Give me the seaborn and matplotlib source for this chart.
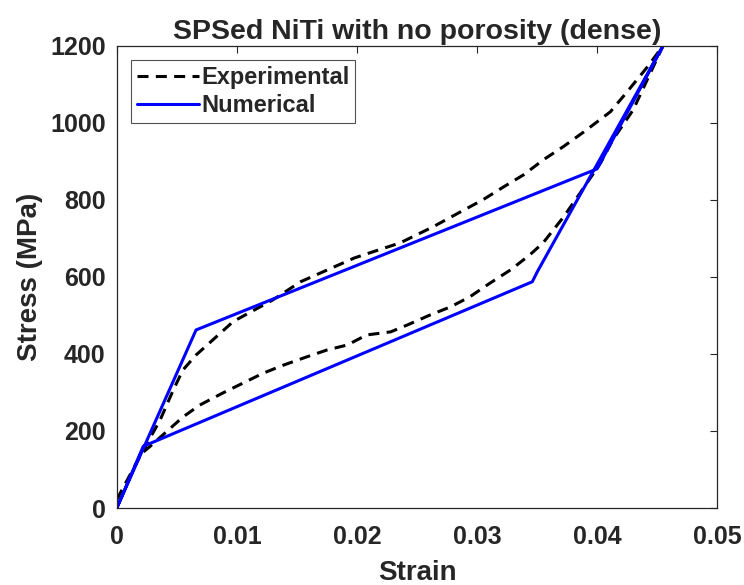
import pandas as pd
import numpy as np
import matplotlib
matplotlib.use("Agg")
import matplotlib.pyplot as plt
import seaborn as sns

sns.set_style("white")
plt.rcParams['font.family'] = ['Liberation Sans', 'DejaVu Sans']
plt.rcParams['font.weight'] = 'bold'

# experimental loop (loading then unloading)
exp_strain = [0.0, 0.0022, 0.0036, 0.0047, 0.0055, 0.0066, 0.0097, 0.013, 0.0153,
              0.0198, 0.0236, 0.0263, 0.0286, 0.0305, 0.0322, 0.0339, 0.0355, 0.0372,
              0.0389, 0.0411, 0.0425, 0.0442, 0.0455,
              0.043, 0.0413, 0.0403, 0.0386, 0.0372, 0.0355, 0.0344, 0.0328, 0.0311,
              0.0294, 0.0278, 0.0261, 0.0242, 0.0228, 0.0208, 0.0192, 0.0175, 0.0158,
              0.0139, 0.0122, 0.0105, 0.0088, 0.0069, 0.0055, 0.0041, 0.0027, 0.0022]
exp_stress = [22, 150, 228, 306, 358, 397, 484, 540, 587,
              649, 688, 729, 768, 800, 833, 865, 903, 938,
              976, 1028, 1080, 1145, 1200,
              1033, 955, 896, 818, 755, 688, 657, 618, 584,
              548, 522, 501, 475, 457, 449, 423, 410, 392,
              371, 350, 324, 298, 267, 236, 197, 158, 145]

# numerical loop
num_strain = [0.0, 0.0066, 0.0400, 0.0455, 0.0350, 0.0346, 0.0022, 0.0]
num_stress = [0, 462, 880, 1200, 612, 587, 160, 0]

exp_df = pd.DataFrame({'Strain': exp_strain, 'Stress': exp_stress})
num_df = pd.DataFrame({'Strain': num_strain, 'Stress': num_stress})

fig = plt.figure(figsize=(7.44, 5.85), dpi=100)
ax = fig.add_axes([0.157, 0.1316, 0.807, 0.7906])

sns.lineplot(data=exp_df, x='Strain', y='Stress', sort=False, estimator=None,
             color='black', linestyle=(0, (3.6, 2.4)), linewidth=2.2,
             label='Experimental', ax=ax)
sns.lineplot(data=num_df, x='Strain', y='Stress', sort=False, estimator=None,
             color='#0000ff', linewidth=2.2, label='Numerical', ax=ax)

ax.set_xlim(0, 0.05)
ax.set_ylim(0, 1200)
ax.set_xticks([0, 0.01, 0.02, 0.03, 0.04, 0.05])
ax.set_xticklabels(['0', '0.01', '0.02', '0.03', '0.04', '0.05'])
ax.set_yticks(range(0, 1201, 200))
ax.tick_params(direction='in', length=5, width=0.8, labelsize=18, colors='#262626',
               top=True, right=True)
ax.tick_params(axis='x', pad=12)
ax.tick_params(axis='y', pad=8)
for lab in ax.get_xticklabels() + ax.get_yticklabels():
    lab.set_fontweight('bold')
for sp in ax.spines.values():
    sp.set_color('#262626')
    sp.set_linewidth(0.9)

ax.set_xlabel('Strain', fontsize=20, fontweight='bold', labelpad=8, color='#262626')
ax.set_ylabel('Stress (MPa)', fontsize=20, fontweight='bold', labelpad=5, color='#262626')
ax.set_title('SPSed NiTi with no porosity (dense)', fontsize=20.5, fontweight='bold', pad=5)

leg = ax.legend(loc='upper left', fontsize=17, frameon=True, fancybox=False,
                edgecolor='#262626', handlelength=2.6, borderpad=0.25,
                labelspacing=0.2, handletextpad=0.1, borderaxespad=0.62)
leg.get_frame().set_linewidth(0.8)
for t in leg.get_texts():
    t.set_fontweight('bold')

fig.savefig('out.png', dpi=100)
